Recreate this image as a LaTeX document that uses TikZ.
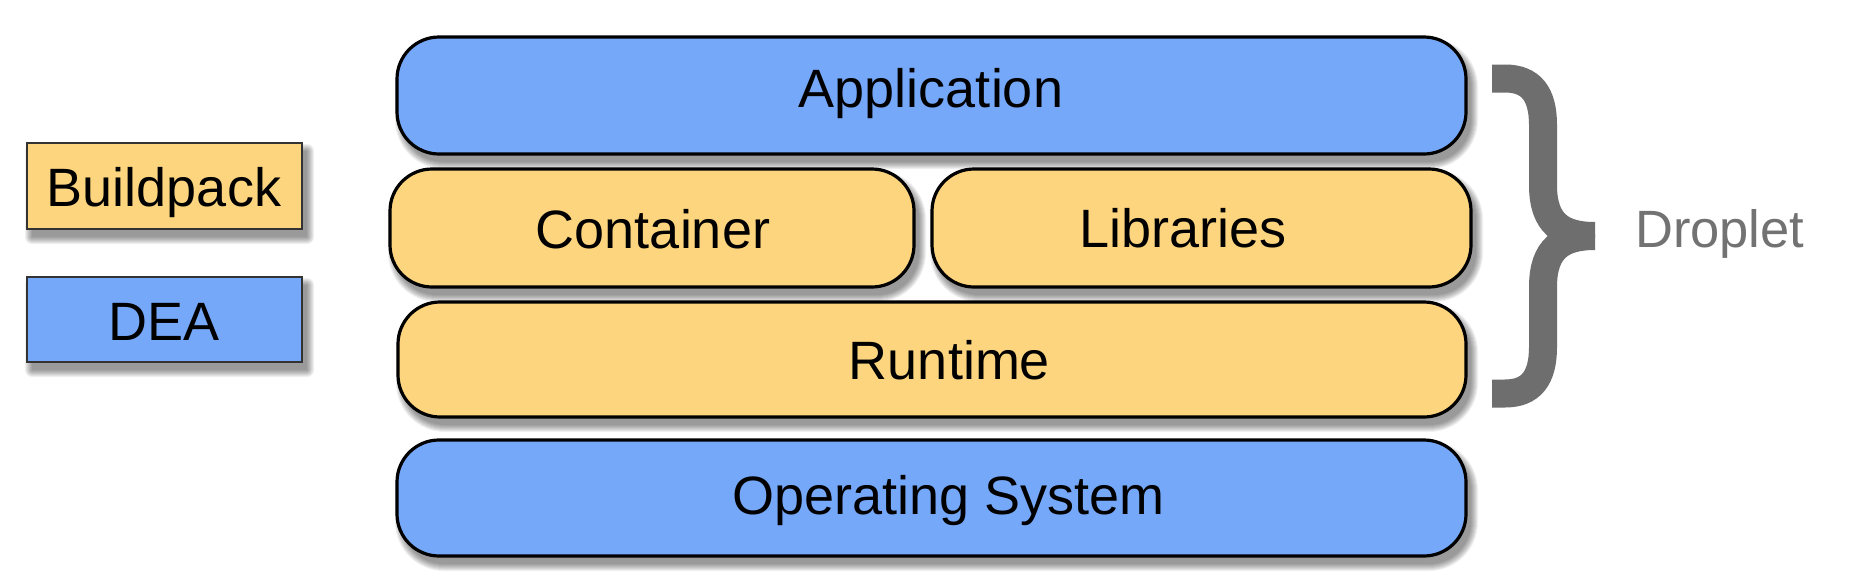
\documentclass[tikz,border=0pt]{standalone}
\usepackage{fontspec}
\setmainfont{Liberation Sans}
\definecolor{deablue}{HTML}{76A8FA}
\definecolor{bpyellow}{HTML}{FCD57E}
\definecolor{bracegray}{HTML}{6E6E6E}
\definecolor{dropgray}{HTML}{727272}
\newcommand\softshadow[5]{%
  \foreach \k in {0,...,7}{%
    \pgfmathsetmacro\rr{#5+\k}%
    \fill[black,opacity=0.06,rounded corners=\rr pt] ({#1+5-\k},{#2+8-\k}) rectangle ({#3+5+\k},{#4+8+\k});
  }}
\tikzset{
  layerbox/.style={draw=black, line width=3.2pt, rounded corners=42pt, inner sep=0pt},
  legendbox/.style={draw=black!80, line width=1.5pt, inner sep=0pt},
  lbl/.style={font=\fontsize{54}{60}\selectfont, text=black, anchor=base, inner sep=0pt},
  dropl/.style={font=\fontsize{52.5}{60}\selectfont, text=dropgray, anchor=base west, inner sep=0pt},
  bracestroke/.style={draw=bracegray, line width=28pt, line cap=butt},
}
\begin{document}
\begin{tikzpicture}[x=1pt,y=-1pt]
\fill[white] (0,0) rectangle (1852,576);
\useasboundingbox (0,0) rectangle (1852,576);
% shadows
\softshadow{397}{37}{1466}{154}{42}
\softshadow{390}{169}{914}{287}{42}
\softshadow{932}{169}{1471}{287}{42}
\softshadow{398}{302}{1466}{417}{42}
\softshadow{397}{440}{1466}{556}{42}
\softshadow{27}{143}{302}{229}{0}
\softshadow{27}{277}{302}{362}{0}
% boxes
\node[layerbox, fill=deablue, minimum width=1069pt, minimum height=117pt] (app) at (931.5,95.5) {};
\node[layerbox, fill=bpyellow, minimum width=524pt, minimum height=118pt] (cont) at (652,228) {};
\node[layerbox, fill=bpyellow, minimum width=539pt, minimum height=118pt] (libs) at (1201.5,228) {};
\node[layerbox, fill=bpyellow, minimum width=1068pt, minimum height=115pt] (rt) at (932,359.5) {};
\node[layerbox, fill=deablue, minimum width=1069pt, minimum height=116pt] (os) at (931.5,498) {};
\node[legendbox, fill=bpyellow, minimum width=275pt, minimum height=86pt] (bp) at (164.5,186) {};
\node[legendbox, fill=deablue, minimum width=275pt, minimum height=85pt] (dea) at (164.5,319.5) {};
% labels
\node[lbl] (tapp) at (931,107) {Application};
\node[lbl] (tcont) at (653,248) {Container};
\node[lbl] (tlibs) at (1183,247) {Libraries};
\node[lbl] (trt) at (949.5,379) {Runtime};
\node[lbl] (tos) at (948.5,514) {Operating System};
\node[lbl] (tbp) at (164,206) {Buildpack};
\node[lbl] (tdea) at (164,340) {DEA};
% brace
\coordinate (btop) at (1492,78.5);
\coordinate (btip) at (1595,236);
\coordinate (bbot) at (1492,393.5);
\draw[bracestroke] (btop) -- (1505,78.5) .. controls (1531,78.5) and (1543,94) .. (1543,125) -- (1543,185) .. controls (1543,224) and (1562,236) .. (btip);
\draw[bracestroke] (btip) .. controls (1562,236) and (1543,248) .. (1543,287) -- (1543,347) .. controls (1543,378) and (1531,393.5) .. (1505,393.5) -- (bbot);
\node[dropl] (drop) at (1635,247) {Droplet};
\end{tikzpicture}
\end{document}
